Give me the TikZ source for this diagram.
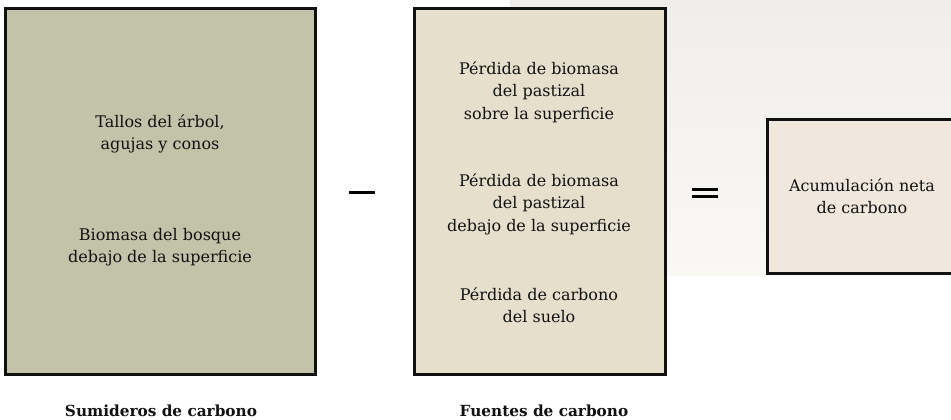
\documentclass[tikz,border=0pt]{standalone}
\usepackage{fontspec}
\setmainfont{DejaVu Serif}
\definecolor{sinkfill}{HTML}{C2C3A8}
\definecolor{srcfill}{HTML}{E6DFCB}
\definecolor{netfill}{HTML}{F0E8DC}
\definecolor{bgtop}{HTML}{F0EEEA}
\definecolor{bgbot}{HTML}{F9F8F5}
\definecolor{ink}{HTML}{111111}
\begin{document}
\begin{tikzpicture}[x=1pt,y=1pt,
  boxframe/.style={draw=ink,line width=3pt},
  txt/.style={font=\fontsize{16}{22.5}\selectfont,align=center,text=ink,inner sep=0pt},
  lbl/.style={font=\fontsize{15.3}{17}\selectfont\bfseries,text=ink,inner sep=0pt,anchor=base},
  opline/.style={draw=black,line width=3pt}]
\useasboundingbox (0,0) rectangle (951,420);
\clip (0,0) rectangle (951,420);
\fill[white] (0,0) rectangle (951,420);
\shade[top color=bgtop,bottom color=bgbot] (510,144) rectangle (951,420);
\path[boxframe,fill=sinkfill] (5,45) rectangle (315,411);
\path[boxframe,fill=srcfill] (414,45) rectangle (665,411);
\path[boxframe,fill=netfill] (767,146) rectangle (975,300);
\node[txt] (s1) at (160,286) {Tallos del árbol,\\agujas y conos};
\node[txt] (s2) at (160,173) {Biomasa del bosque\\debajo de la superficie};
\node[txt] (f1) at (539,328) {Pérdida de biomasa\\del pastizal\\sobre la superficie};
\node[txt] (f2) at (539,216) {Pérdida de biomasa\\del pastizal\\debajo de la superficie};
\node[txt] (f3) at (539,115) {Pérdida de carbono\\del suelo};
\node[txt] (n1) at (862,224) {Acumulación neta\\de carbono};
\coordinate (m1) at (349,227);
\coordinate (m2) at (375,227);
\draw[opline] (m1) -- (m2);
\coordinate (e1) at (692,230.5);
\coordinate (e2) at (718,230.5);
\coordinate (e3) at (692,223.5);
\coordinate (e4) at (718,223.5);
\draw[opline] (e1) -- (e2);
\draw[opline] (e3) -- (e4);
\node[lbl] (L1) at (161,3) {Sumideros de carbono};
\node[lbl] (L2) at (544,3) {Fuentes de carbono};
\end{tikzpicture}
\end{document}
